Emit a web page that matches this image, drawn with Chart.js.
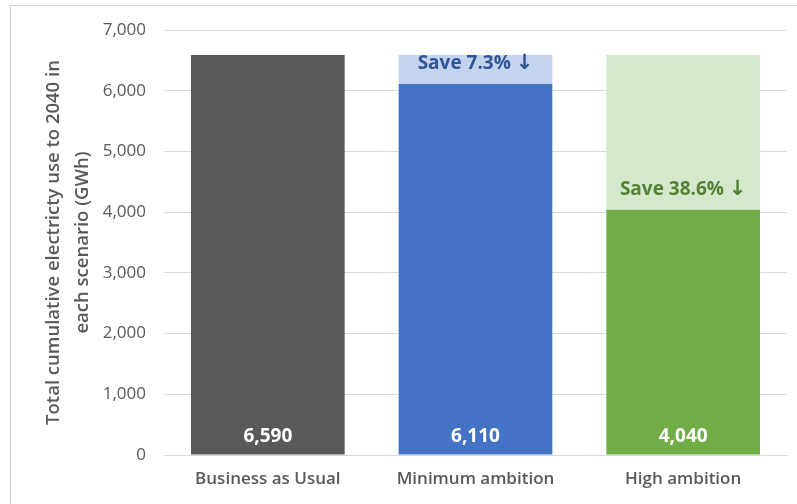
<!DOCTYPE html>
<html>
<head>
<meta charset="utf-8">
<script src="https://cdn.jsdelivr.net/npm/chart.js@4.4.1/dist/chart.umd.min.js"></script>
<style>
  html,body{margin:0;padding:0;background:#fff;}
  #wrap{position:relative;width:797px;height:504px;overflow:hidden;}
  #frame{position:absolute;left:10px;top:5px;width:900px;height:600px;border:1px solid #d0d0d0;box-sizing:border-box;z-index:2;pointer-events:none;}
  canvas{position:absolute;left:0;top:0;z-index:1;}
</style>
</head>
<body>
<div id="wrap">
  <div id="frame"></div>
  <canvas id="chart" width="797" height="504"></canvas>
</div>
<script>
// data
const categories = ['Business as Usual', 'Minimum ambition', 'High ambition'];
const usage = [6590, 6110, 4040];
const saving = [null, 480, 2550];
const saveLabels = [null, 'Save 7.3%', 'Save 38.6%'];
const yTicks = [0, 1000, 2000, 3000, 4000, 5000, 6000, 7000];

const fontFam = '"Open Sans", "Noto Sans", sans-serif';

// draws value labels inside bars (no datalabels plugin available offline)
const barLabels = {
    id: 'barLabels',
    afterDatasetsDraw(chart){
        const ctx = chart.ctx;
        ctx.save();
        ctx.textBaseline = 'middle';
        ctx.textAlign = 'center';
        const base = chart.getDatasetMeta(0);
        base.data.forEach((bar, i)=>{
            ctx.fillStyle = '#ffffff';
            ctx.font = '700 19px ' + fontFam;
            ctx.fillText(usage[i].toLocaleString('en-US'), bar.x, bar.base - 18);
        });
        const top = chart.getDatasetMeta(1);
        const saveColors = [null, '#2f5597', '#548235'];
        ctx.textAlign = 'left';
        top.data.forEach((bar, i)=>{
            if(!saveLabels[i]) return;
            ctx.fillStyle = saveColors[i];
            // text + arrow, arrow in DejaVu so it is a full-size glyph
            const txt = saveLabels[i] + ' ';
            ctx.font = '700 19px ' + fontFam;
            const w1 = ctx.measureText(txt).width;
            ctx.font = 'bold 21px "DejaVu Sans"';
            const w2 = ctx.measureText('\u2193').width;
            let x = bar.x - (w1 + w2) / 2;
            const y = bar.base - 20;
            ctx.font = '700 19px ' + fontFam;
            ctx.fillText(txt, x, y);
            ctx.font = 'bold 21px "DejaVu Sans"';
            ctx.fillText('\u2193', x + w1, y);
        });
        ctx.restore();
    }
};

new Chart(document.getElementById('chart').getContext('2d'), {
    type: 'bar',
    data: {
        labels: categories,
        datasets: [{
            label: 'Electricity use',
            data: usage,
            backgroundColor: ['#595959', '#4472c4', '#70ad47'],
            borderWidth: 0,
            categoryPercentage: 0.74,
            barPercentage: 1
        },{
            label: 'Saving',
            data: saving,
            backgroundColor: [null, '#c5d4ee', '#d6e8cb'],
            borderWidth: 0,
            categoryPercentage: 0.74,
            barPercentage: 1
        }]
    },
    options: {
        responsive: false,
        animation: false,
        layout: {padding: {left: 39, right: 10, top: 30, bottom: 0}},
        plugins: {legend: {display: false}, tooltip: {enabled: false}},
        scales: {
            x: {
                stacked: true,
                grid: {display: false, drawTicks: false},
                border: {color: '#d9d9d9', width: 1},
                ticks: {color: '#595959', font: {family: fontFam, size: 17, weight: '600'}, padding: 14},
                afterFit: s => { s.height = 49; }
            },
            y: {
                stacked: true,
                min: 0,
                max: 7000,
                afterBuildTicks: s => { s.ticks = yTicks.map(v => ({value: v})); },
                grid: {color: '#d9d9d9', drawTicks: false},
                border: {display: false},
                ticks: {
                    color: '#595959',
                    font: {family: fontFam, size: 17},
                    padding: 18,
                    callback: v => v.toLocaleString('en-US')
                },
                title: {
                    display: true,
                    text: ['Total cumulative electricty use to 2040 in', 'each scenario (GWh)'],
                    color: '#595959',
                    font: {family: fontFam, size: 18.5, weight: '600', lineHeight: 1.57},
                    padding: {top: 0, bottom: 4}
                },
                afterFit: s => { s.width = 125; }
            }
        }
    },
    plugins: [barLabels]
});
</script>
</body>
</html>
